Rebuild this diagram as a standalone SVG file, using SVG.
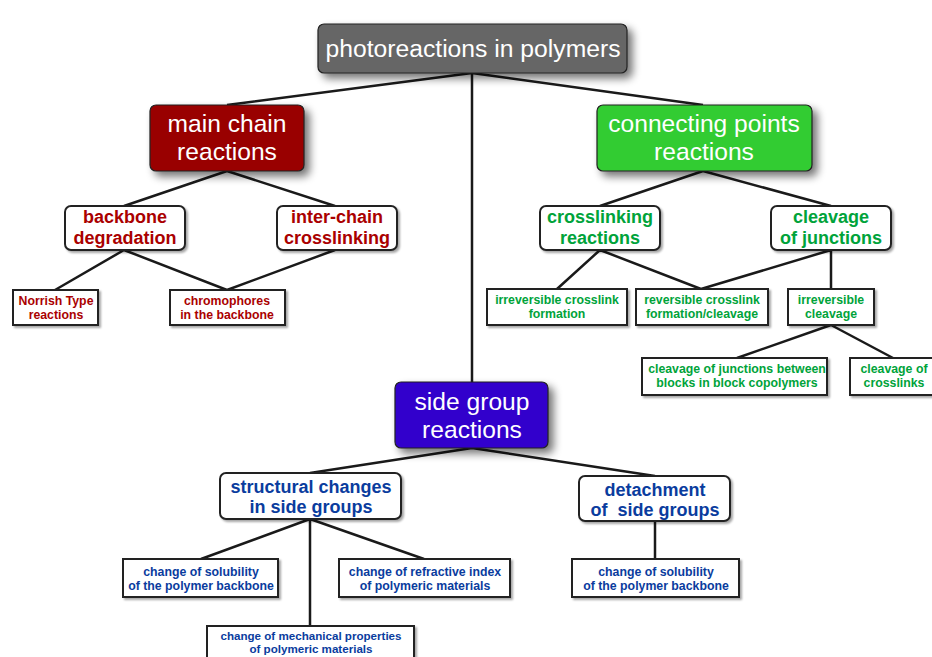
<svg xmlns="http://www.w3.org/2000/svg" width="932" height="657" viewBox="0 0 932 657">
<defs>
<filter id="sh" x="-20%" y="-30%" width="150%" height="170%">
<feGaussianBlur in="SourceAlpha" stdDeviation="4"/>
<feOffset dx="5" dy="5" result="b"/>
<feComponentTransfer><feFuncA type="linear" slope="0.55"/></feComponentTransfer>
<feMerge><feMergeNode/><feMergeNode in="SourceGraphic"/></feMerge>
</filter>
<filter id="sh2" x="-10%" y="-20%" width="130%" height="150%">
<feGaussianBlur in="SourceAlpha" stdDeviation="1.2"/>
<feOffset dx="2" dy="2" result="b"/>
<feComponentTransfer><feFuncA type="linear" slope="0.35"/></feComponentTransfer>
<feMerge><feMergeNode/><feMergeNode in="SourceGraphic"/></feMerge>
</filter>
</defs>
<style>
.big{stroke:#222;stroke-width:1.2;filter:url(#sh)}
.mid{fill:#fff;stroke:#222;stroke-width:2;filter:url(#sh2)}
.leaf{fill:#fff;stroke:#222;stroke-width:2;filter:url(#sh2)}
.tw{font-family:"Liberation Sans",Arial,sans-serif;fill:#fff;text-anchor:middle}
.t1{font-size:24.7px}
.t2{font-size:24.6px}
.tm{font-family:"Liberation Sans",Arial,sans-serif;font-weight:bold;font-size:18px;text-anchor:middle;white-space:pre}
.tl{font-family:"Liberation Sans",Arial,sans-serif;font-weight:bold;font-size:12.3px;text-anchor:middle}
.ts{font-size:11.6px}
.red{fill:#aa0000}
.grn{fill:#00a33a}
.blu{fill:#0a3c9e}
.ln{stroke:#1a1a1a;stroke-width:2.5;fill:none}
</style>
<rect width="932" height="657" fill="#fff"/>
<g id="connectors">
<path class="ln" d="M472 73L227 105M472 73L703 105M472 73L472 382"/>
<path class="ln" d="M227 171L124 206M227 171L335 206"/>
<path class="ln" d="M124 250L55 290M124 250L227 290M335 250L227 290"/>
<path class="ln" d="M703 171L600 206M703 171L831 206"/>
<path class="ln" d="M600 250L557 289M600 250L701 289M831 250L701 289M831 250L831 289"/>
<path class="ln" d="M831 325L737 358M831 325L893 358"/>
<path class="ln" d="M472 448L310 473M472 448L655 476"/>
<path class="ln" d="M310 519L201 559M310 519L310 626M310 519L424 559"/>
<path class="ln" d="M655 521L655 559"/>
</g>
<g id="n-root">
<rect class="big" x="318" y="24" width="309" height="49" rx="6" fill="#666666"/>
<text class="tw t1" x="473" y="57">photoreactions in polymers</text>
</g>
<g id="n-main">
<rect class="big" x="150" y="105" width="154" height="66" rx="6" fill="#990000"/>
<text class="tw t2" x="227" y="132">main chain</text>
<text class="tw t2" x="227" y="160">reactions</text>
</g>
<g id="n-conn">
<rect class="big" x="597" y="105" width="215" height="66" rx="6" fill="#33cc33"/>
<text class="tw t2" x="704" y="132">connecting points</text>
<text class="tw t2" x="704" y="160">reactions</text>
</g>
<g id="n-side">
<rect class="big" x="395" y="382" width="153" height="66" rx="6" fill="#3300cc"/>
<text class="tw t2" x="472" y="410">side group</text>
<text class="tw t2" x="472" y="438">reactions</text>
</g>
<g id="n-backbone">
<rect class="mid" x="65" y="206" width="120" height="44" rx="6"/>
<text class="tm red" x="125" y="223">backbone</text>
<text class="tm red" x="125" y="244">degradation</text>
</g>
<g id="n-interchain">
<rect class="mid" x="277" y="206" width="120" height="44" rx="6"/>
<text class="tm red" x="337" y="223">inter-chain</text>
<text class="tm red" x="337" y="244">crosslinking</text>
</g>
<g id="n-norrish">
<rect class="leaf" x="13" y="290" width="85" height="35"/>
<text class="tl red" x="56" y="305">Norrish Type</text>
<text class="tl red" x="56" y="319">reactions</text>
</g>
<g id="n-chromo">
<rect class="leaf" x="170" y="290" width="115" height="35"/>
<text class="tl red" x="227" y="305">chromophores</text>
<text class="tl red" x="227" y="319">in the backbone</text>
</g>
<g id="n-crosslinking">
<rect class="mid" x="540" y="206" width="120" height="44" rx="6"/>
<text class="tm grn" x="600" y="223">crosslinking</text>
<text class="tm grn" x="600" y="244">reactions</text>
</g>
<g id="n-cleavage">
<rect class="mid" x="771" y="206" width="120" height="44" rx="6"/>
<text class="tm grn" x="831" y="223">cleavage</text>
<text class="tm grn" x="831" y="244">of junctions</text>
</g>
<g id="n-irrcross">
<rect class="leaf" x="487" y="289" width="140" height="36"/>
<text class="tl grn" x="557" y="304">irreversible crosslink</text>
<text class="tl grn" x="557" y="318">formation</text>
</g>
<g id="n-revcross">
<rect class="leaf" x="636" y="289" width="132" height="36"/>
<text class="tl grn" x="702" y="304">reversible crosslink</text>
<text class="tl grn" x="702" y="318">formation/cleavage</text>
</g>
<g id="n-irrcleav">
<rect class="leaf" x="788" y="289" width="86" height="36"/>
<text class="tl grn" x="831" y="304">irreversible</text>
<text class="tl grn" x="831" y="318">cleavage</text>
</g>
<g id="n-cleavblocks">
<rect class="leaf" x="642" y="358" width="185" height="37"/>
<text class="tl grn" x="737" y="373">cleavage of junctions between</text>
<text class="tl grn" x="737" y="387">blocks in block copolymers</text>
</g>
<g id="n-cleavcross">
<rect class="leaf" x="850" y="358" width="90" height="37"/>
<text class="tl grn" x="894" y="373">cleavage of</text>
<text class="tl grn" x="894" y="387">crosslinks</text>
</g>
<g id="n-structural">
<rect class="mid" x="220" y="473" width="181" height="46" rx="6"/>
<text class="tm blu" x="311" y="493">structural changes</text>
<text class="tm blu" x="311" y="513">in side groups</text>
</g>
<g id="n-detach">
<rect class="mid" x="579" y="476" width="151" height="45" rx="6"/>
<text class="tm blu" x="655" y="496">detachment</text>
<text class="tm blu" x="655" y="516" xml:space="preserve">of  side groups</text>
</g>
<g id="n-solub1">
<rect class="leaf" x="123" y="559" width="155" height="38"/>
<text class="tl blu" x="201" y="576">change of solubility</text>
<text class="tl blu" x="201" y="590">of the polymer backbone</text>
</g>
<g id="n-refr">
<rect class="leaf" x="339" y="559" width="171" height="38"/>
<text class="tl blu" x="425" y="576">change of refractive index</text>
<text class="tl blu" x="425" y="590">of polymeric materials</text>
</g>
<g id="n-mech">
<rect class="leaf" x="207" y="626" width="207" height="40"/>
<text class="tl ts blu" x="311" y="640">change of mechanical properties</text>
<text class="tl ts blu" x="311" y="653">of polymeric materials</text>
</g>
<g id="n-solub2">
<rect class="leaf" x="572" y="559" width="167" height="38"/>
<text class="tl blu" x="656" y="576">change of solubility</text>
<text class="tl blu" x="656" y="590">of the polymer backbone</text>
</g>
</svg>
